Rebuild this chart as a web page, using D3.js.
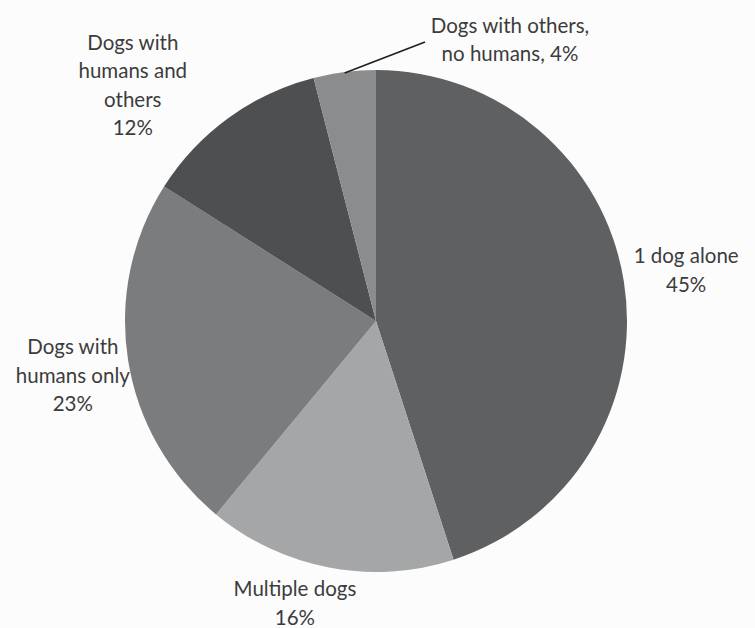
<!DOCTYPE html>
<html>
  <head>
    <meta charset="utf-8">
    <script src="https://d3js.org/d3.v7.min.js"></script>
    <style>
      body { margin: 0; background: #fcfcfc; }
      svg text {
        font-family: Lato, "Open Sans", sans-serif;
        font-size: 20.5px;
        fill: #3c3c3c;
      }
    </style>
  </head>
<body>
  <script type="text/javascript">
    // chart values, clockwise from 12 o'clock
    var categories = ["1 dog alone", "Multiple dogs", "Dogs with humans only",
                      "Dogs with humans and others", "Dogs with others, no humans"];
    var shares = [45, 16, 23, 12, 4];
    // how Excel broke the labels into lines (the % is appended to the last line)
    var labelLines = [["1 dog alone"], ["Multiple dogs"], ["Dogs with", "humans only"],
                      ["Dogs with", "humans and", "others"], ["Dogs with others,", "no humans, 4%"]];
    var colours = ["#5f6062", "#a5a6a8", "#7b7c7e", "#4e4f51", "#8b8c8e"];

    var width = 755, height = 628,
        cx = 376, cy = 321,
        radius = 251,
        labelRadius = 310,
        lineGap = 28.5;

    // hand nudges for labels Excel moved off their default spot
    var nudge = [[4, -2], [-23, -22], [3, 6], [-61, 15], [0, 0]];

    var data = categories.map(function(c, i) {
      return {name: c, value: shares[i], lines: labelLines[i], colour: colours[i]};
    });

    var svg = d3.select("body")
      .append("svg")
        .attr("width", width)
        .attr("height", height);

    var g = svg.append("g")
      .attr("transform", "translate(" + cx + "," + cy + ")");

    var pie = d3.pie()
      .sort(null)
      .value(function(d) { return d.value; });
    var arc = d3.arc().innerRadius(0).outerRadius(radius);

    var arcs = pie(data);

    g.selectAll("path.slice")
      .data(arcs)
      .enter()
      .append("path")
        .attr("class", "slice")
        .attr("d", arc)
        .attr("fill", function(d) { return d.data.colour; });

    function midAngle(d) { return (d.startAngle + d.endAngle) / 2; }

    // label blocks
    var labels = g.selectAll("g.label")
      .data(arcs)
      .enter()
      .append("g")
        .attr("class", "label")
        .attr("transform", function(d, i) {
          var a = midAngle(d), x, y;
          if (i === 4) {
            // small slice: label pulled up-right with a leader line
            x = 134; y = -281;
          } else {
            x = Math.sin(a) * labelRadius + nudge[i][0];
            y = -Math.cos(a) * labelRadius + nudge[i][1];
          }
          return "translate(" + x + "," + y + ")";
        });

    labels.each(function(d, i) {
      var lines = d.data.lines.slice();
      if (i !== 4) lines.push(d.data.value + "%");
      var n = lines.length;
      d3.select(this).selectAll("text")
        .data(lines)
        .enter()
        .append("text")
          .attr("text-anchor", "middle")
          .attr("y", function(t, k) { return (k - (n - 1) / 2) * lineGap; })
          .attr("dy", "0.35em")
          .text(function(t) { return t; });
    });

    // leader line for the 4% slice
    var small = arcs[4];
    var a4 = midAngle(small);
    g.append("line")
      .attr("x1", Math.sin(a4) * (radius - 1))
      .attr("y1", -Math.cos(a4) * (radius - 1))
      .attr("x2", 49)
      .attr("y2", -279)
      .attr("stroke", "#1e1e1e")
      .attr("stroke-width", 1.6);
  </script>
</body>
</html>
